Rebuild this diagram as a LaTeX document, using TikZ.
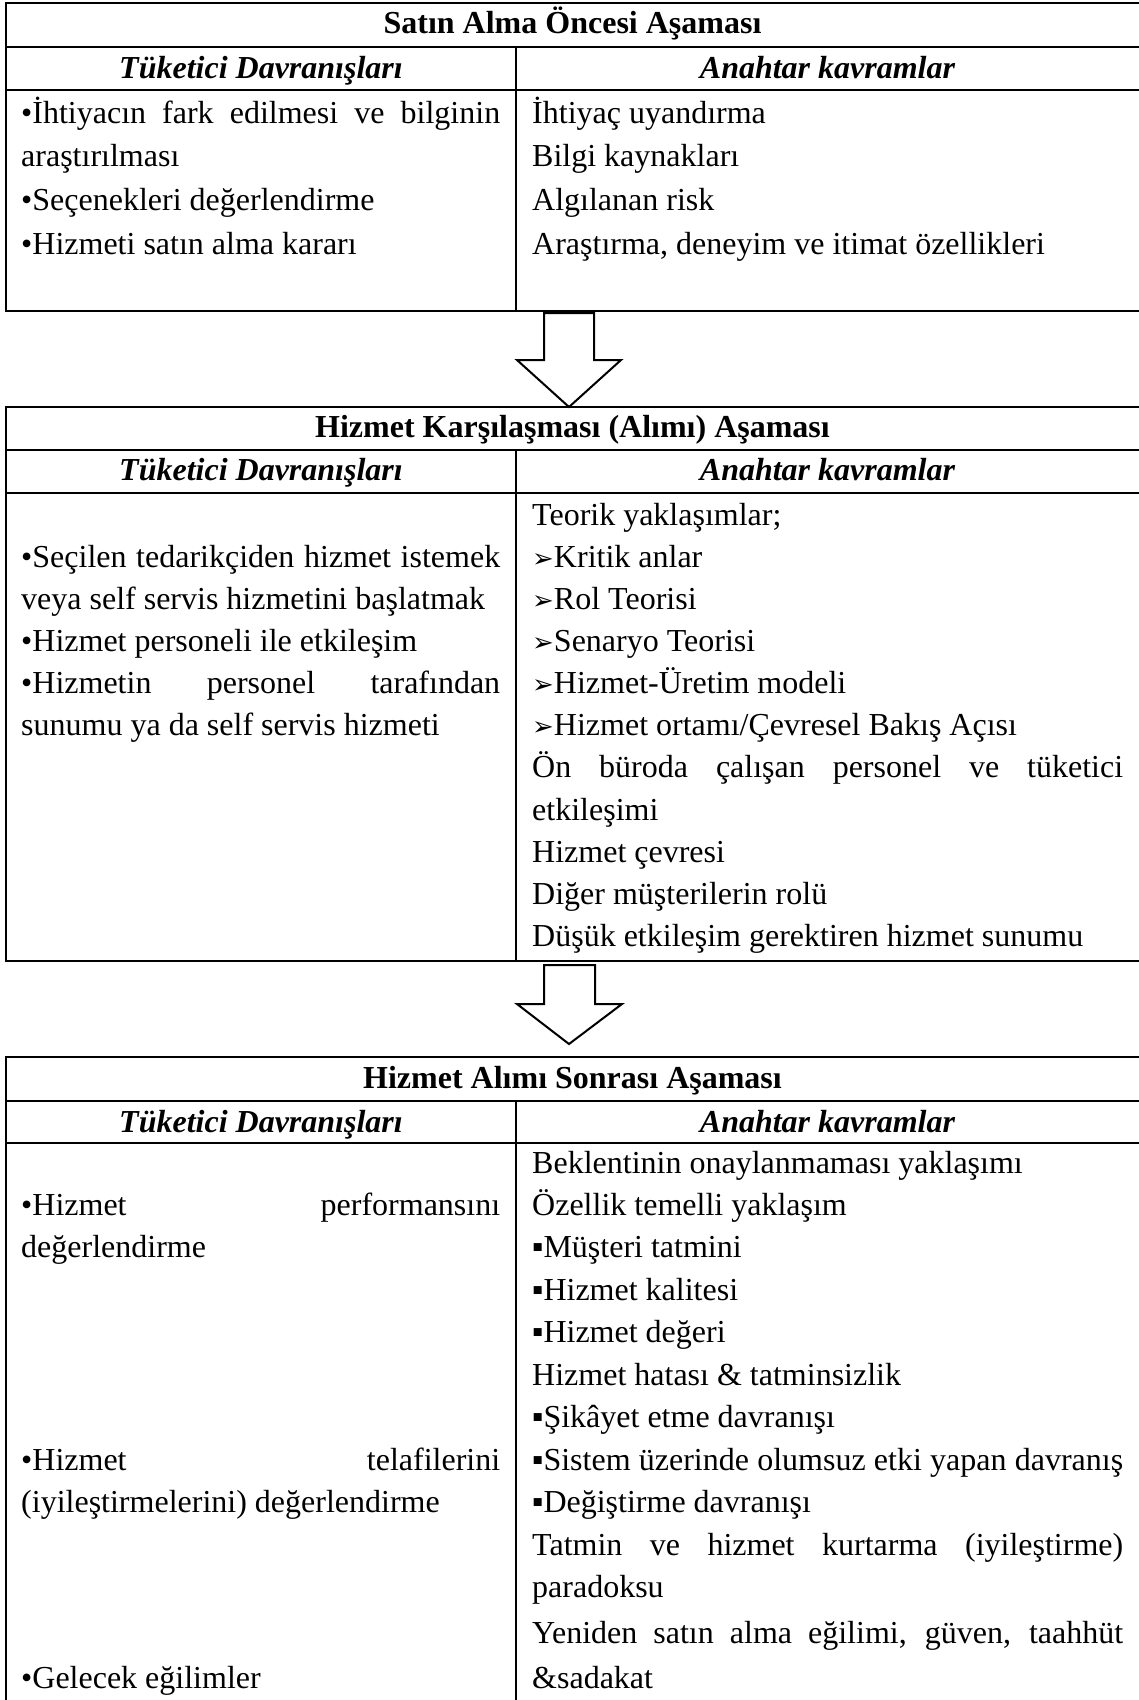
\documentclass[tikz,border=0pt]{standalone}
\usepackage{fontspec}
\setmainfont{Liberation Serif}
\newfontfamily\dingfont{DejaVu Sans}
\usetikzlibrary{calc}

% bullets used in the key-concept lists
\newcommand{\arrb}{{\dingfont\fontsize{26}{30}\selectfont ➢}}
\newcommand{\sqb}{▪}
% a line spread to the full width of its column
\newcommand{\jl}[2]{\makebox[#1pt][s]{#2}}

\begin{document}
\begin{tikzpicture}[x=1pt,y=-1pt,
  frame/.style={line width=2pt},
  txt/.style={anchor=base west,inner sep=0pt,font=\fontsize{32}{38}\selectfont},
  head/.style={anchor=base,inner sep=0pt,font=\fontsize{32}{38}\selectfont\bfseries},
  subhead/.style={anchor=base,inner sep=0pt,font=\fontsize{32}{38}\selectfont\bfseries\itshape},
  blockarrow/.style={draw,line width=2pt,fill=white,line join=miter}]
\useasboundingbox (0,0) rectangle (1139,1700);

% ---------- stage 1 ----------
\draw[frame] (6,3) rectangle (1141,311);
\draw[frame] (6,47) -- (1141,47);
\draw[frame] (6,90) -- (1141,90);
\draw[frame] (516,47) -- (516,311);
\node[head] (h1) at (572.5,33) {Satın Alma Öncesi Aşaması};
\node[subhead] (s1l) at (261,78) {Tüketici Davranışları};
\node[subhead] (s1r) at (827.5,78) {Anahtar kavramlar};
\node[txt] (a1) at (21,123) {\jl{479}{•İhtiyacın fark edilmesi ve bilginin}};
\node[txt] (a2) at (21,166) {araştırılması};
\node[txt] (a3) at (21,210) {•Seçenekleri değerlendirme};
\node[txt] (a4) at (21,254) {•Hizmeti satın alma kararı};
\node[txt] (b1) at (532,123) {İhtiyaç uyandırma};
\node[txt] (b2) at (532,166) {Bilgi kaynakları};
\node[txt] (b3) at (532,210) {Algılanan risk};
\node[txt] (b4) at (532,254) {Araştırma, deneyim ve itimat özellikleri};

% ---------- arrow 1 ----------
\coordinate (tip1) at (569,407);
\draw[blockarrow] (544,313) -- (594,313) -- (594,360) -- (621,360) -- (tip1)
  -- (517,360) -- (544,360) -- cycle;

% ---------- stage 2 ----------
\draw[frame] (6,407) rectangle (1141,961);
\draw[frame] (6,450) -- (1141,450);
\draw[frame] (6,493) -- (1141,493);
\draw[frame] (516,450) -- (516,961);
\node[head] (h2) at (572.5,437) {Hizmet Karşılaşması (Alımı) Aşaması};
\node[subhead] (s2l) at (261,480) {Tüketici Davranışları};
\node[subhead] (s2r) at (827.5,480) {Anahtar kavramlar};
\node[txt] (c1) at (21,567) {\jl{479}{•Seçilen tedarikçiden hizmet istemek}};
\node[txt] (c2) at (21,609) {veya self servis hizmetini başlatmak};
\node[txt] (c3) at (21,651) {•Hizmet personeli ile etkileşim};
\node[txt] (c4) at (21,693) {\jl{479}{•Hizmetin personel tarafından}};
\node[txt] (c5) at (21,735) {sunumu ya da self servis hizmeti};
\node[txt] (d1) at (532,525) {Teorik yaklaşımlar;};
\node[txt] (d2) at (532,567) {\arrb Kritik anlar};
\node[txt] (d3) at (532,609) {\arrb Rol Teorisi};
\node[txt] (d4) at (532,651) {\arrb Senaryo Teorisi};
\node[txt] (d5) at (532,693) {\arrb Hizmet-Üretim modeli};
\node[txt] (d6) at (532,735) {\arrb Hizmet ortamı/Çevresel Bakış Açısı};
\node[txt] (d7) at (532,777) {\jl{591}{Ön büroda çalışan personel ve tüketici}};
\node[txt] (d8) at (532,820) {etkileşimi};
\node[txt] (d9) at (532,862) {Hizmet çevresi};
\node[txt] (d10) at (532,904) {Diğer müşterilerin rolü};
\node[txt] (d11) at (532,946) {Düşük etkileşim gerektiren hizmet sunumu};

% ---------- arrow 2 ----------
\coordinate (tip2) at (569,1044);
\draw[blockarrow] (544,965) -- (595,965) -- (595,1004) -- (622,1004) -- (tip2)
  -- (517,1004) -- (544,1004) -- cycle;

% ---------- stage 3 ----------
\draw[frame] (6,1057) rectangle (1141,1703);
\draw[frame] (6,1101) -- (1141,1101);
\draw[frame] (6,1143) -- (1141,1143);
\draw[frame] (516,1101) -- (516,1703);
\node[head] (h3) at (572.5,1088) {Hizmet Alımı Sonrası Aşaması};
\node[subhead] (s3l) at (261,1132) {Tüketici Davranışları};
\node[subhead] (s3r) at (827.5,1132) {Anahtar kavramlar};
\node[txt] (e1) at (21,1215) {\jl{479}{•Hizmet performansını}};
\node[txt] (e2) at (21,1257) {değerlendirme};
\node[txt] (e3) at (21,1470) {\jl{479}{•Hizmet telafilerini}};
\node[txt] (e4) at (21,1512) {(iyileştirmelerini) değerlendirme};
\node[txt] (e5) at (21,1688) {•Gelecek eğilimler};
\node[txt] (f1) at (532,1173) {Beklentinin onaylanmaması yaklaşımı};
\node[txt] (f2) at (532,1215) {Özellik temelli yaklaşım};
\node[txt] (f3) at (532,1257) {\sqb Müşteri tatmini};
\node[txt] (f4) at (532,1300) {\sqb Hizmet kalitesi};
\node[txt] (f5) at (532,1342) {\sqb Hizmet değeri};
\node[txt] (f6) at (532,1385) {Hizmet hatası \& tatminsizlik};
\node[txt] (f7) at (532,1427) {\sqb Şikâyet etme davranışı};
\node[txt] (f8) at (532,1470) {\jl{591}{\sqb Sistem üzerinde olumsuz etki yapan davranış}};
\node[txt] (f9) at (532,1512) {\sqb Değiştirme davranışı};
\node[txt] (f10) at (532,1555) {\jl{591}{Tatmin ve hizmet kurtarma (iyileştirme)}};
\node[txt] (f11) at (532,1597) {paradoksu};
\node[txt] (f12) at (532,1643) {\jl{591}{Yeniden satın alma eğilimi, güven, taahhüt}};
\node[txt] (f13) at (532,1688) {\&sadakat};
\end{tikzpicture}
\end{document}
